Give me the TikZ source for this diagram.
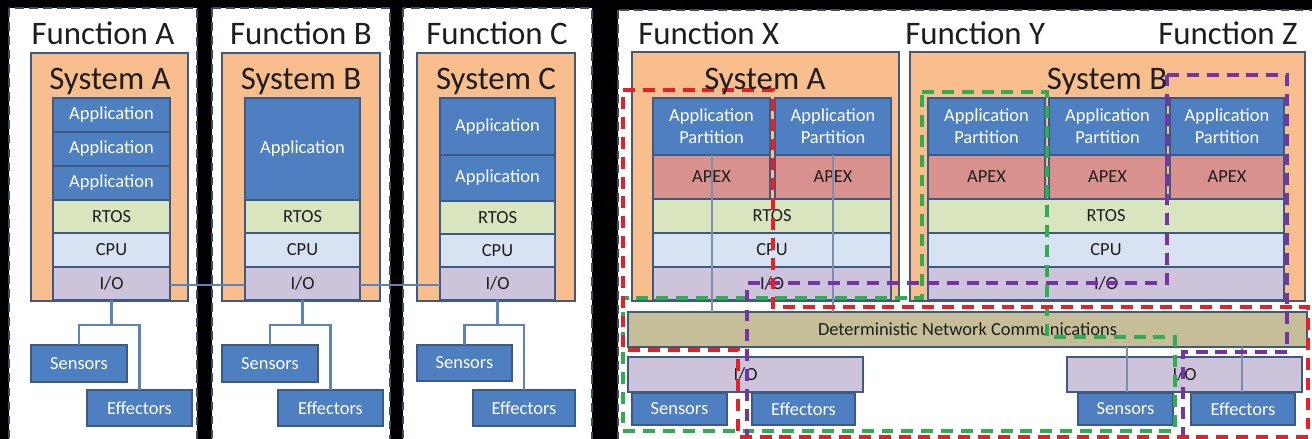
\documentclass[tikz,border=0pt]{standalone}
\usepackage{fontspec}
\setmainfont{Carlito}
\usetikzlibrary{calc}

\definecolor{orangefill}{HTML}{F9BE8E}
\definecolor{edge}{HTML}{3D5A84}
\definecolor{appblue}{HTML}{4E7FC0}
\definecolor{apexred}{HTML}{D8918D}
\definecolor{rtosgreen}{HTML}{D8E5BE}
\definecolor{cpublue}{HTML}{D7E2F2}
\definecolor{iolav}{HTML}{CDC3DB}
\definecolor{netkhaki}{HTML}{C6BE98}
\definecolor{linkblue}{HTML}{5B84BE}
\definecolor{panelline}{HTML}{3C4C66}
\definecolor{divider}{HTML}{7B8DB0}
\definecolor{fnred}{HTML}{E42127}
\definecolor{fngreen}{HTML}{2EAE4E}
\definecolor{fnpurple}{HTML}{7434A4}
\definecolor{inktext}{HTML}{1E1E1E}

\newcommand\smalltxt{\fontsize{10.5}{12.5}\selectfont}
\newcommand\bigtxt{\fontsize{18.7}{22}\selectfont}

% block with top-left corner (#2,#3) and bottom-right corner (#4,#5), in pixel units
\newcommand\blk[7]{%
  \node[#6,anchor=north west,
        minimum width={(#4-#2)*0.02cm},
        minimum height={(#5-#3)*0.02cm}] (#1) at (#2,#3) {#7};}

\tikzset{
  panel/.style={fill=white, draw=panelline, line width=1.6pt, dash pattern=on 5pt off 3pt},
  blockbase/.style={draw=edge, line width=1.1pt, inner sep=0pt, outer sep=0pt,
                    align=center, font=\smalltxt, text=inktext},
  sysbox/.style={blockbase, fill=orangefill, line width=1.3pt},
  app/.style={blockbase, fill=appblue, text=white},
  apex/.style={blockbase, fill=apexred},
  rtos/.style={blockbase, fill=rtosgreen},
  cpu/.style={blockbase, fill=cpublue},
  io/.style={blockbase, fill=iolav},
  dev/.style={blockbase, fill=appblue, text=white},
  netbar/.style={blockbase, fill=netkhaki},
  title/.style={font=\bigtxt, text=inktext, inner sep=0pt},
  tree/.style={draw=linkblue, line width=1.2pt},
  link/.style={draw=linkblue, line width=1.1pt},
  divline/.style={draw=divider, line width=0.6pt},
  fnline/.style={line width=1.8pt, dash pattern=on 6.8pt off 4.5pt},
  fnX/.style={fnline, draw=fnred},
  fnY/.style={fnline, draw=fngreen},
  fnZ/.style={fnline, draw=fnpurple},
}

\begin{document}
\begin{tikzpicture}[x=0.02cm, y=-0.02cm]
\useasboundingbox (0,0) rectangle (1312,439);
\clip (0,0) rectangle (1312,439);
\fill[black] (0,0) rectangle (1312,439);

% ---------------- federated panels ----------------
\draw[panel] (9,8) rectangle (197,460);
\draw[panel] (212,8) rectangle (390,460);
\draw[panel] (403,8) rectangle (592,460);

% System A
\blk{sysA}{31}{53}{188}{301}{sysbox}{}
\blk{aA1}{53}{98}{170}{132}{app}{Application}
\blk{aA2}{53}{132}{170}{166}{app}{Application}
\blk{aA3}{53}{166}{170}{200}{app}{Application}
\blk{rA}{53}{200}{170}{233}{rtos}{RTOS}
\blk{cA}{53}{233}{170}{267}{cpu}{CPU}
\blk{iA}{53}{267}{170}{300}{io}{I/O}
\blk{sA}{31}{345}{127}{382}{dev}{Sensors}
\blk{eA}{87}{390}{192}{426}{dev}{Effectors}

% System B
\blk{sysB}{222}{53}{380}{301}{sysbox}{}
\blk{aB1}{245}{98}{360}{200}{app}{Application}
\blk{rB}{245}{200}{360}{233}{rtos}{RTOS}
\blk{cB}{245}{233}{360}{267}{cpu}{CPU}
\blk{iB}{245}{267}{360}{300}{io}{I/O}
\blk{sB}{222}{345}{318}{382}{dev}{Sensors}
\blk{eB}{278}{390}{383}{426}{dev}{Effectors}

% System C
\blk{sysC}{417}{53}{575}{301}{sysbox}{}
\blk{aC1}{440}{98}{555}{155}{app}{Application}
\blk{aC2}{440}{155}{555}{201}{app}{Application}
\blk{rC}{440}{201}{555}{234}{rtos}{RTOS}
\blk{cC}{440}{234}{555}{267}{cpu}{CPU}
\blk{iC}{440}{267}{555}{300}{io}{I/O}
\blk{sC}{417}{345}{512}{381}{dev}{Sensors}
\blk{eC}{473}{390}{575}{426}{dev}{Effectors}

% sensor / effector wiring
\draw[tree] (iA.south) -- ++(0,25) coordinate (kA);
\draw[tree] (sA.north) |- (kA) -| (eA.north);
\draw[tree] (iB.south) -- ++(0,25) coordinate (kB);
\draw[tree] (sB.north) |- (kB) -| (eB.north);
\draw[tree] (iC.south) -- ++(0,25) coordinate (kC);
\draw[tree] (sC.north) |- (kC) -| (eC.north);

% point-to-point links between the federated systems
\draw[link] ([yshift=-0.03cm]iA.east) -- ([yshift=-0.03cm]iB.west);
\draw[link] ([yshift=-0.03cm]iB.east) -- ([yshift=-0.03cm]iC.west);

% ---------------- integrated panel ----------------
\draw[panel] (618,10) rectangle (1340,460);

\blk{sysX}{632}{52}{899}{301}{sysbox}{}
\blk{sysY}{910}{52}{1305}{301}{sysbox}{}

% System A (integrated)
\blk{pA1}{653}{98}{770}{155}{app}{Application\\Partition}
\blk{pA2}{775}{98}{891}{155}{app}{Application\\Partition}
\blk{xA1}{653}{155}{770}{199}{apex}{APEX}
\blk{xA2}{775}{155}{891}{199}{apex}{APEX}
\blk{rX}{653}{199}{891}{233}{rtos}{RTOS}
\blk{cX}{653}{233}{891}{267}{cpu}{CPU}
\blk{iX}{653}{267}{891}{300}{io}{I/O}

% System B (integrated)
\blk{pB1}{928}{98}{1045}{155}{app}{Application\\Partition}
\blk{pB2}{1049}{98}{1166}{155}{app}{Application\\Partition}
\blk{pB3}{1170}{98}{1284}{155}{app}{Application\\Partition}
\blk{xB1}{928}{155}{1045}{199}{apex}{APEX}
\blk{xB2}{1049}{155}{1166}{199}{apex}{APEX}
\blk{xB3}{1170}{155}{1284}{199}{apex}{APEX}
\blk{rY}{928}{199}{1284}{233}{rtos}{RTOS}
\blk{cY}{928}{233}{1284}{267}{cpu}{CPU}
\blk{iY}{928}{267}{1284}{300}{io}{I/O}

% shared network and remote I/O
\blk{net}{628}{312}{1307}{347}{netbar}{Deterministic Network Communications}
\blk{ioL}{628}{357}{863}{392}{io}{I/O}
\blk{sL}{632}{393}{727}{425}{dev}{Sensors}
\blk{eL}{752}{393}{855}{425}{dev}{Effectors}
\blk{ioR}{1067}{357}{1302}{392}{io}{I/O}
\blk{sR}{1078}{393}{1173}{425}{dev}{Sensors}
\blk{eR}{1191}{393}{1295}{425}{dev}{Effectors}

% partition channels through the shared layers
\coordinate (dv1) at (712,155);
\coordinate (dv2) at (833,155);
\draw[divline] (dv1) -- (dv1 |- net.north);
\draw[divline] (dv2) -- (dv2 |- net.north);
\coordinate (dv3) at (1127,347);
\coordinate (dv4) at (1242,347);
\draw[divline] (dv3) -- (dv3 |- ioR.south);
\draw[divline] (dv4) -- (dv4 |- ioR.south);

% function boundaries
\draw[fnY] (922,92) -- (1047,92) -- (1047,337) -- (1175,337) -- (1175,431)
  -- (623,431) -- (623,298) -- (922,298) -- cycle;
\draw[fnZ] (1167,75) -- (1287,75) -- (1287,352) -- (1183,352) -- (1183,444)
  -- (747,444) -- (747,283) -- (1167,283) -- cycle;
\draw[fnX] (623,90) -- (773,90) -- (773,307) -- (1308,307) -- (1308,437)
  -- (738,437) -- (738,350) -- (623,350) -- cycle;

% titles
\node[title, anchor=base] (fA) at (103,45) {Function A};
\node[title, anchor=base] (fB) at (301,45) {Function B};
\node[title, anchor=base] (fC) at (497,45) {Function C};
\node[title, anchor=base] (tA) at (110,90) {System A};
\node[title, anchor=base] (tB) at (301,90) {System B};
\node[title, anchor=base] (tC) at (496,90) {System C};
\node[title, anchor=base west] (fX) at (638,45) {Function X};
\node[title, anchor=base west] (fY) at (905,45) {Function Y};
\node[title, anchor=base west] (fZ) at (1158,45) {Function Z};
\node[title, anchor=base] (tX) at (765,90) {System A};
\node[title, anchor=base] (tY) at (1107,90) {System B};
\end{tikzpicture}
\end{document}
